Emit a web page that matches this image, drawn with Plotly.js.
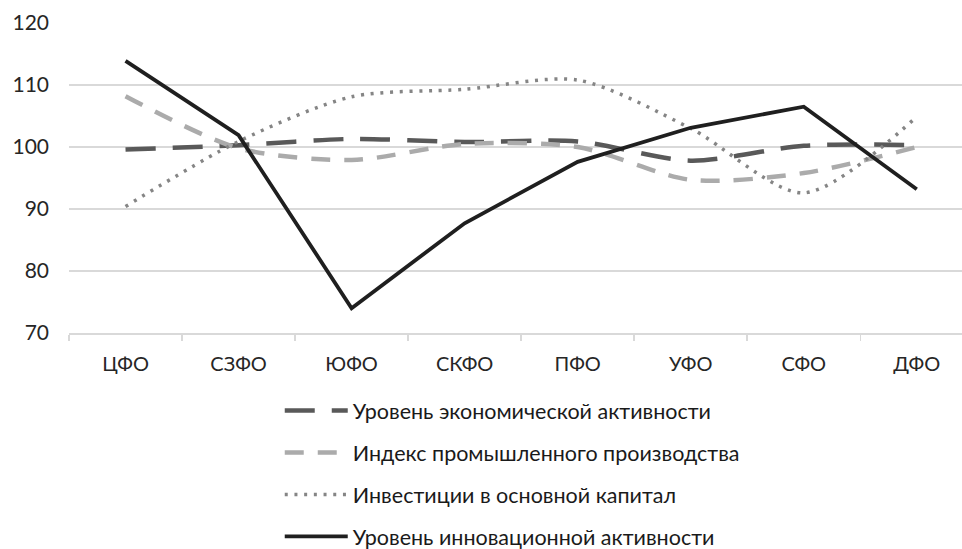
<!DOCTYPE html>
<html>
<head>
<meta charset="utf-8">
<script src="https://cdn.plot.ly/plotly-3.0.1.min.js"></script>
<style>
  html, body { margin: 0; padding: 0; background: #fff; }
  #chart { width: 962px; height: 549px; }
</style>
</head>
<body>
<div id="chart"></div>
<script>
const categories = ["ЦФО", "СЗФО", "ЮФО", "СКФО", "ПФО", "УФО", "СФО", "ДФО"];
const seriesNames = [
  "Уровень экономической активности",
  "Индекс промышленного производства",
  "Инвестиции в основной капитал",
  "Уровень инновационной активности"
];
const economicActivity = [99.6, 100.3, 101.3, 100.8, 100.9, 97.8, 100.2, 100.3];
const industrialIndex  = [108.2, 99.8, 97.9, 100.5, 100.0, 94.7, 95.8, 100.0];
const investment       = [90.4, 100.9, 108.1, 109.3, 110.8, 103.0, 92.6, 104.9];
const innovation       = [113.9, 101.9, 74.0, 87.7, 97.6, 103.1, 106.5, 93.2];
const yTicks = [70, 80, 90, 100, 110, 120];

const FONT = "Lato, 'Open Sans', 'Liberation Sans', sans-serif";

const traces = [
  {
    x: categories, y: economicActivity, name: seriesNames[0], legendgroup: "g1",
    mode: "lines", line: {color: "#595959", width: 4.5, dash: "30px,17px", shape: "spline", smoothing: 0.8}
  },
  {
    x: categories, y: industrialIndex, name: seriesNames[1], legendgroup: "g2",
    mode: "lines", line: {color: "#ababab", width: 4.5, dash: "19px,14px", shape: "spline", smoothing: 0.8}
  },
  {
    x: categories, y: investment, name: seriesNames[2], legendgroup: "g3",
    mode: "lines", line: {color: "#858585", width: 3.5, dash: "3px,6.7px", shape: "spline", smoothing: 0.8}
  },
  {
    x: categories, y: innovation, name: seriesNames[3], legendgroup: "g4",
    mode: "lines", line: {color: "#1f1f1f", width: 3.8, shape: "linear"}
  }
];

const layout = {
  width: 962, height: 549,
  margin: {l: 69, r: 0, t: 23, b: 216, autoexpand: false},
  paper_bgcolor: "#ffffff", plot_bgcolor: "#ffffff",
  font: {family: FONT, size: 20, color: "#262626"},
  showlegend: true,
  legend: {
    orientation: "v",
    x: 0.236, xanchor: "left",
    y: -0.184, yanchor: "top",
    tracegroupgap: 11,
    font: {family: FONT, size: 21.5, color: "#1a1a1a"},
    bgcolor: "rgba(0,0,0,0)",
    itemwidth: 63
  },
  xaxis: {
    type: "category",
    range: [-0.5, 7.4],
    showgrid: false,
    showline: true, linecolor: "#d9d9d9", linewidth: 1.5,
    ticks: "outside", tickson: "boundaries", ticklen: 6, tickcolor: "#d9d9d9", tickwidth: 1.5,
    tickangle: 0,
    ticklabelstandoff: 12,
    tickfont: {family: FONT, size: 20, color: "#262626"},
    zeroline: false, fixedrange: true
  },
  yaxis: {
    range: [70, 120],
    tickvals: yTicks,
    ticktext: yTicks.map(String),
    showgrid: true, gridcolor: "#d9d9d9", gridwidth: 1.5,
    showline: false, zeroline: false,
    ticks: "",
    ticklabelstandoff: 19,
    tickfont: {family: FONT, size: 21, color: "#262626"},
    fixedrange: true
  }
};

Plotly.newPlot("chart", traces, layout, {displayModeBar: false, staticPlot: true});
</script>
</body>
</html>
